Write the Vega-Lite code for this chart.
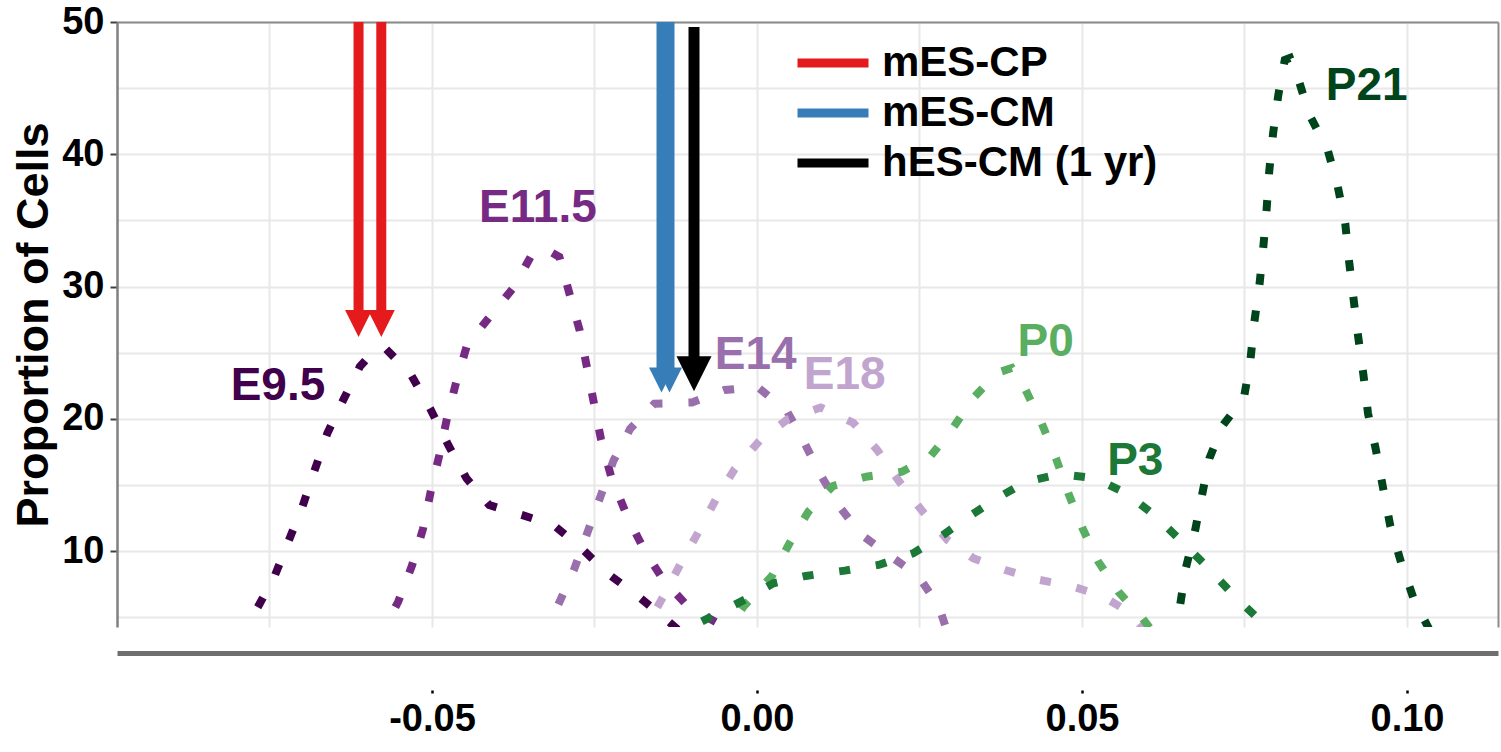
{
  "$schema": "https://vega.github.io/schema/vega-lite/v6.json",
  "width": 1381,
  "height": 605,
  "autosize": {"type": "none"},
  "padding": {"left": 117, "top": 22, "right": 3, "bottom": 125},
  "background": "white",
  "config": {
    "view": {"stroke": null},
    "font": "Liberation Sans",
    "axis": {"labelFont": "Liberation Sans", "titleFont": "Liberation Sans"},
    "legend": {"labelFont": "Liberation Sans"}
  },
  "datasets": {
    "curves": [
      {"series": "E9.5", "x": -0.0795, "y": 3.3},
      {"series": "E9.5", "x": -0.0769, "y": 5.68},
      {"series": "E9.5", "x": -0.0742, "y": 8.13},
      {"series": "E9.5", "x": -0.0721, "y": 10.72},
      {"series": "E9.5", "x": -0.0699, "y": 13.42},
      {"series": "E9.5", "x": -0.0680, "y": 16.19},
      {"series": "E9.5", "x": -0.0661, "y": 18.91},
      {"series": "E9.5", "x": -0.0636, "y": 21.48},
      {"series": "E9.5", "x": -0.0611, "y": 23.95},
      {"series": "E9.5", "x": -0.0590, "y": 25.1},
      {"series": "E9.5", "x": -0.0572, "y": 25.35},
      {"series": "E9.5", "x": -0.0533, "y": 23.39},
      {"series": "E9.5", "x": -0.0503, "y": 20.8},
      {"series": "E9.5", "x": -0.0475, "y": 18.03},
      {"series": "E9.5", "x": -0.0447, "y": 15.51},
      {"series": "E9.5", "x": -0.0412, "y": 13.49},
      {"series": "E9.5", "x": -0.0362, "y": 12.74},
      {"series": "E9.5", "x": -0.0313, "y": 11.98},
      {"series": "E9.5", "x": -0.0270, "y": 10.22},
      {"series": "E9.5", "x": -0.0229, "y": 8.28},
      {"series": "E9.5", "x": -0.0185, "y": 6.69},
      {"series": "E9.5", "x": -0.0142, "y": 4.93},
      {"series": "E9.5", "x": -0.0103, "y": 3.3},

      {"series": "E11.5", "x": -0.0583, "y": 3.3},
      {"series": "E11.5", "x": -0.0572, "y": 4.29},
      {"series": "E11.5", "x": -0.0552, "y": 6.18},
      {"series": "E11.5", "x": -0.0531, "y": 8.88},
      {"series": "E11.5", "x": -0.0514, "y": 11.65},
      {"series": "E11.5", "x": -0.0502, "y": 14.5},
      {"series": "E11.5", "x": -0.0489, "y": 17.2},
      {"series": "E11.5", "x": -0.0477, "y": 20.04},
      {"series": "E11.5", "x": -0.0463, "y": 22.74},
      {"series": "E11.5", "x": -0.0446, "y": 25.59},
      {"series": "E11.5", "x": -0.0412, "y": 27.68},
      {"series": "E11.5", "x": -0.0374, "y": 29.95},
      {"series": "E11.5", "x": -0.0345, "y": 32.54},
      {"series": "E11.5", "x": -0.0325, "y": 32.84},
      {"series": "E11.5", "x": -0.0304, "y": 32.24},
      {"series": "E11.5", "x": -0.0288, "y": 29.37},
      {"series": "E11.5", "x": -0.0273, "y": 26.72},
      {"series": "E11.5", "x": -0.0262, "y": 24.0},
      {"series": "E11.5", "x": -0.0251, "y": 21.22},
      {"series": "E11.5", "x": -0.0240, "y": 18.46},
      {"series": "E11.5", "x": -0.0224, "y": 15.57},
      {"series": "E11.5", "x": -0.0199, "y": 12.55},
      {"series": "E11.5", "x": -0.0172, "y": 9.96},
      {"series": "E11.5", "x": -0.0144, "y": 7.82},
      {"series": "E11.5", "x": -0.0106, "y": 5.81},
      {"series": "E11.5", "x": -0.0060, "y": 4.55},
      {"series": "E11.5", "x": -0.0026, "y": 3.7},

      {"series": "E14", "x": -0.0322, "y": 3.3},
      {"series": "E14", "x": -0.0306, "y": 5.93},
      {"series": "E14", "x": -0.0282, "y": 8.54},
      {"series": "E14", "x": -0.0262, "y": 11.26},
      {"series": "E14", "x": -0.0242, "y": 13.98},
      {"series": "E14", "x": -0.0221, "y": 16.82},
      {"series": "E14", "x": -0.0195, "y": 19.26},
      {"series": "E14", "x": -0.0158, "y": 21.15},
      {"series": "E14", "x": -0.0100, "y": 21.24},
      {"series": "E14", "x": -0.0050, "y": 22.18},
      {"series": "E14", "x": 0.0001, "y": 22.41},
      {"series": "E14", "x": 0.0046, "y": 20.6},
      {"series": "E14", "x": 0.0072, "y": 18.28},
      {"series": "E14", "x": 0.0098, "y": 15.76},
      {"series": "E14", "x": 0.0127, "y": 13.36},
      {"series": "E14", "x": 0.0161, "y": 11.22},
      {"series": "E14", "x": 0.0205, "y": 9.64},
      {"series": "E14", "x": 0.0248, "y": 8.13},
      {"series": "E14", "x": 0.0280, "y": 5.81},
      {"series": "E14", "x": 0.0294, "y": 3.7},

      {"series": "E18", "x": -0.0180, "y": 3.3},
      {"series": "E18", "x": -0.0170, "y": 4.35},
      {"series": "E18", "x": -0.0141, "y": 6.84},
      {"series": "E18", "x": -0.0116, "y": 9.21},
      {"series": "E18", "x": -0.0088, "y": 11.63},
      {"series": "E18", "x": -0.0062, "y": 14.04},
      {"series": "E18", "x": -0.0034, "y": 16.23},
      {"series": "E18", "x": 0.0005, "y": 18.41},
      {"series": "E18", "x": 0.0047, "y": 19.97},
      {"series": "E18", "x": 0.0098, "y": 20.86},
      {"series": "E18", "x": 0.0148, "y": 19.71},
      {"series": "E18", "x": 0.0185, "y": 17.65},
      {"series": "E18", "x": 0.0219, "y": 15.25},
      {"series": "E18", "x": 0.0253, "y": 13.11},
      {"series": "E18", "x": 0.0293, "y": 10.85},
      {"series": "E18", "x": 0.0333, "y": 9.46},
      {"series": "E18", "x": 0.0382, "y": 8.58},
      {"series": "E18", "x": 0.0429, "y": 7.88},
      {"series": "E18", "x": 0.0482, "y": 7.39},
      {"series": "E18", "x": 0.0530, "y": 6.64},
      {"series": "E18", "x": 0.0574, "y": 5.35},
      {"series": "E18", "x": 0.0602, "y": 3.7},

      {"series": "P0", "x": -0.0057, "y": 3.3},
      {"series": "P0", "x": -0.0020, "y": 5.86},
      {"series": "P0", "x": 0.0023, "y": 8.13},
      {"series": "P0", "x": 0.0050, "y": 10.6},
      {"series": "P0", "x": 0.0079, "y": 12.99},
      {"series": "P0", "x": 0.0117, "y": 14.93},
      {"series": "P0", "x": 0.0168, "y": 15.63},
      {"series": "P0", "x": 0.0223, "y": 16.01},
      {"series": "P0", "x": 0.0266, "y": 17.12},
      {"series": "P0", "x": 0.0300, "y": 19.21},
      {"series": "P0", "x": 0.0332, "y": 21.54},
      {"series": "P0", "x": 0.0369, "y": 23.47},
      {"series": "P0", "x": 0.0392, "y": 23.85},
      {"series": "P0", "x": 0.0412, "y": 22.31},
      {"series": "P0", "x": 0.0438, "y": 19.67},
      {"series": "P0", "x": 0.0460, "y": 17.02},
      {"series": "P0", "x": 0.0479, "y": 14.38},
      {"series": "P0", "x": 0.0500, "y": 11.81},
      {"series": "P0", "x": 0.0525, "y": 9.21},
      {"series": "P0", "x": 0.0556, "y": 6.94},
      {"series": "P0", "x": 0.0593, "y": 4.93},
      {"series": "P0", "x": 0.0612, "y": 3.7},

      {"series": "P3", "x": -0.0134, "y": 3.3},
      {"series": "P3", "x": -0.0106, "y": 4.17},
      {"series": "P3", "x": -0.0065, "y": 5.18},
      {"series": "P3", "x": -0.0018, "y": 6.36},
      {"series": "P3", "x": 0.0025, "y": 7.57},
      {"series": "P3", "x": 0.0075, "y": 8.13},
      {"series": "P3", "x": 0.0135, "y": 8.53},
      {"series": "P3", "x": 0.0187, "y": 8.96},
      {"series": "P3", "x": 0.0240, "y": 9.84},
      {"series": "P3", "x": 0.0284, "y": 11.15},
      {"series": "P3", "x": 0.0326, "y": 12.61},
      {"series": "P3", "x": 0.0369, "y": 14.0},
      {"series": "P3", "x": 0.0414, "y": 15.25},
      {"series": "P3", "x": 0.0466, "y": 15.84},
      {"series": "P3", "x": 0.0520, "y": 15.51},
      {"series": "P3", "x": 0.0568, "y": 14.38},
      {"series": "P3", "x": 0.0611, "y": 12.74},
      {"series": "P3", "x": 0.0651, "y": 10.85},
      {"series": "P3", "x": 0.0692, "y": 8.83},
      {"series": "P3", "x": 0.0733, "y": 6.69},
      {"series": "P3", "x": 0.0773, "y": 4.8},
      {"series": "P3", "x": 0.0786, "y": 3.7},

      {"series": "P21", "x": 0.0638, "y": 3.3},
      {"series": "P21", "x": 0.0651, "y": 5.93},
      {"series": "P21", "x": 0.0660, "y": 8.77},
      {"series": "P21", "x": 0.0674, "y": 11.56},
      {"series": "P21", "x": 0.0685, "y": 14.32},
      {"series": "P21", "x": 0.0696, "y": 17.02},
      {"series": "P21", "x": 0.0717, "y": 19.54},
      {"series": "P21", "x": 0.0749, "y": 21.56},
      {"series": "P21", "x": 0.0759, "y": 24.38},
      {"series": "P21", "x": 0.0765, "y": 27.27},
      {"series": "P21", "x": 0.0773, "y": 30.12},
      {"series": "P21", "x": 0.0779, "y": 33.02},
      {"series": "P21", "x": 0.0784, "y": 35.84},
      {"series": "P21", "x": 0.0788, "y": 38.68},
      {"series": "P21", "x": 0.0794, "y": 41.59},
      {"series": "P21", "x": 0.0802, "y": 44.48},
      {"series": "P21", "x": 0.0812, "y": 47.13},
      {"series": "P21", "x": 0.0820, "y": 47.28},
      {"series": "P21", "x": 0.0834, "y": 45.49},
      {"series": "P21", "x": 0.0850, "y": 42.97},
      {"series": "P21", "x": 0.0878, "y": 40.33},
      {"series": "P21", "x": 0.0893, "y": 37.68},
      {"series": "P21", "x": 0.0905, "y": 34.78},
      {"series": "P21", "x": 0.0911, "y": 31.88},
      {"series": "P21", "x": 0.0918, "y": 28.99},
      {"series": "P21", "x": 0.0925, "y": 26.17},
      {"series": "P21", "x": 0.0933, "y": 23.32},
      {"series": "P21", "x": 0.0940, "y": 20.42},
      {"series": "P21", "x": 0.0952, "y": 17.7},
      {"series": "P21", "x": 0.0963, "y": 14.83},
      {"series": "P21", "x": 0.0974, "y": 11.98},
      {"series": "P21", "x": 0.0991, "y": 9.13},
      {"series": "P21", "x": 0.1010, "y": 6.44},
      {"series": "P21", "x": 0.1033, "y": 4.2},
      {"series": "P21", "x": 0.1043, "y": 3.3}
    ],
    "labels": [
      {"series": "E9.5", "x": -0.0737, "y": 22.49},
      {"series": "E11.5", "x": -0.0337, "y": 35.91},
      {"series": "E14", "x": -0.0002, "y": 24.83},
      {"series": "E18", "x": 0.0135, "y": 23.32},
      {"series": "P0", "x": 0.0444, "y": 25.84},
      {"series": "P3", "x": 0.0582, "y": 16.78},
      {"series": "P21", "x": 0.0938, "y": 45.16}
    ],
    "arrows": [
      {"sample": "mES-CP", "x": -0.0613, "top": 50, "head": 27.22},
      {"sample": "mES-CP", "x": -0.0578, "top": 50, "head": 27.22},
      {"sample": "mES-CM", "x": -0.01469, "top": 50, "head": 22.94},
      {"sample": "mES-CM", "x": -0.01346, "top": 50, "head": 22.94},
      {"sample": "hES-CM (1 yr)", "x": -0.00969, "top": 49.62, "head": 23.42}
    ]
  },
  "resolve": {
    "scale": {"color": "independent"},
    "axis": {"x": "independent", "y": "independent"}
  },
  "layer": [
    {
      "data": {"name": "curves"},
      "mark": {"type": "line", "clip": true, "strokeWidth": 8, "strokeDash": [11, 26], "strokeCap": "butt"},
      "encoding": {
        "x": {
          "field": "x", "type": "quantitative",
          "scale": {"domain": [-0.09846, 0.114], "nice": false, "zero": false},
          "axis": {
            "values": [-0.075, -0.05, -0.025, 0, 0.025, 0.05, 0.075, 0.1],
            "format": ".2f",
            "labelExpr": "abs(datum.value * 20 - round(datum.value * 20)) < 0.001 ? replace(datum.label, '\u2212', '-') : ''",
            "offset": 26,
            "domainColor": "#6e6e6e", "domainWidth": 5,
            "grid": true, "gridColor": "#e8e8e8", "gridWidth": 2,
            "tickSize": 40, "tickDash": [0, 37, 3, 100], "tickWidth": 2.5, "tickColor": "black",
            "tickOpacity": {"condition": {"test": "abs(datum.value * 20 - round(datum.value * 20)) < 0.001", "value": 1}, "value": 0},
            "labelPadding": 7, "labelFontSize": 38, "labelFontWeight": "bold", "labelColor": "black",
            "title": null
          }
        },
        "y": {
          "field": "y", "type": "quantitative",
          "scale": {"domain": [4.27, 50], "nice": false, "zero": false},
          "axis": {
            "values": [5, 10, 15, 20, 25, 30, 35, 40, 45, 50],
            "labelExpr": "datum.value % 10 === 0 ? datum.label : ''",
            "grid": true, "gridColor": "#e8e8e8", "gridWidth": 2,
            "domainColor": "#808080", "domainWidth": 2.5,
            "tickSize": 7, "tickWidth": 2, "tickColor": "#404040",
            "tickOpacity": {"condition": {"test": "datum.value % 10 === 0", "value": 1}, "value": 0},
            "labelFontSize": 38, "labelFontWeight": "bold", "labelColor": "black", "labelPadding": 6,
            "title": "Proportion of Cells", "titleFontSize": 45, "titleFontWeight": "bold", "titleColor": "black", "titlePadding": 5
          }
        },
        "color": {
          "field": "series", "type": "nominal",
          "scale": {"domain": ["E9.5", "E11.5", "E14", "E18", "P0", "P3", "P21"], "range": ["#40004b", "#762a83", "#9970ab", "#c2a5cf", "#5aae61", "#1b7837", "#00441b"]},
          "legend": null
        }
      }
    },
    {
      "data": {"name": "labels"},
      "mark": {"type": "text", "font": "Liberation Sans", "fontSize": 46, "fontWeight": "bold", "align": "center", "baseline": "middle"},
      "encoding": {
        "x": {"field": "x", "type": "quantitative", "axis": null},
        "y": {"field": "y", "type": "quantitative", "axis": null},
        "text": {"field": "series"},
        "color": {
          "field": "series", "type": "nominal",
          "scale": {"domain": ["E9.5", "E11.5", "E14", "E18", "P0", "P3", "P21"], "range": ["#40004b", "#762a83", "#9970ab", "#c2a5cf", "#5aae61", "#1b7837", "#00441b"]},
          "legend": null
        }
      }
    },
    {
      "data": {"name": "arrows"},
      "mark": {"type": "rule", "strokeCap": "butt"},
      "encoding": {
        "x": {"field": "x", "type": "quantitative", "axis": {"orient": "top", "domain": true, "domainColor": "#8c8c8c", "domainWidth": 2, "ticks": false, "labels": false, "grid": false, "title": null}},
        "y": {"field": "top", "type": "quantitative", "axis": {"orient": "right", "domain": true, "domainColor": "#8c8c8c", "domainWidth": 2, "ticks": false, "labels": false, "grid": false, "title": null}},
        "y2": {"field": "head"},
        "color": {
          "field": "sample", "type": "nominal",
          "scale": {"domain": ["mES-CP", "mES-CM", "hES-CM (1 yr)"], "range": ["#e41a1c", "#377eb8", "#000000"]},
          "legend": {
            "orient": "none", "legendX": 676, "legendY": 16, "title": null, "padding": 0,
            "symbolType": "stroke", "symbolSize": 5041, "symbolStrokeWidth": 9, "symbolOpacity": 1,
            "labelFontSize": 42, "labelFontWeight": "bold", "labelColor": "black", "labelFont": "Liberation Sans",
            "labelOffset": 9, "labelLimit": 0, "rowPadding": 0, "clipHeight": 50
          }
        },
        "strokeWidth": {"condition": {"test": "datum.sample === 'hES-CM (1 yr)'", "value": 11}, "value": 10}
      }
    },
    {
      "data": {"name": "arrows"},
      "mark": {"type": "point", "filled": true, "opacity": 1, "strokeWidth": 0, "shape": "M-1,-1L1,-1L0,1Z"},
      "encoding": {
        "x": {"field": "x", "type": "quantitative", "axis": null},
        "y": {"field": "head", "type": "quantitative", "axis": null},
        "color": {
          "field": "sample", "type": "nominal",
          "scale": {"domain": ["mES-CP", "mES-CM", "hES-CM (1 yr)"], "range": ["#e41a1c", "#377eb8", "#000000"]},
          "legend": null
        },
        "size": {"condition": [{"test": "datum.sample === 'mES-CP'", "value": 729}, {"test": "datum.sample === 'mES-CM'", "value": 625}], "value": 1225}
      }
    }
  ]
}
